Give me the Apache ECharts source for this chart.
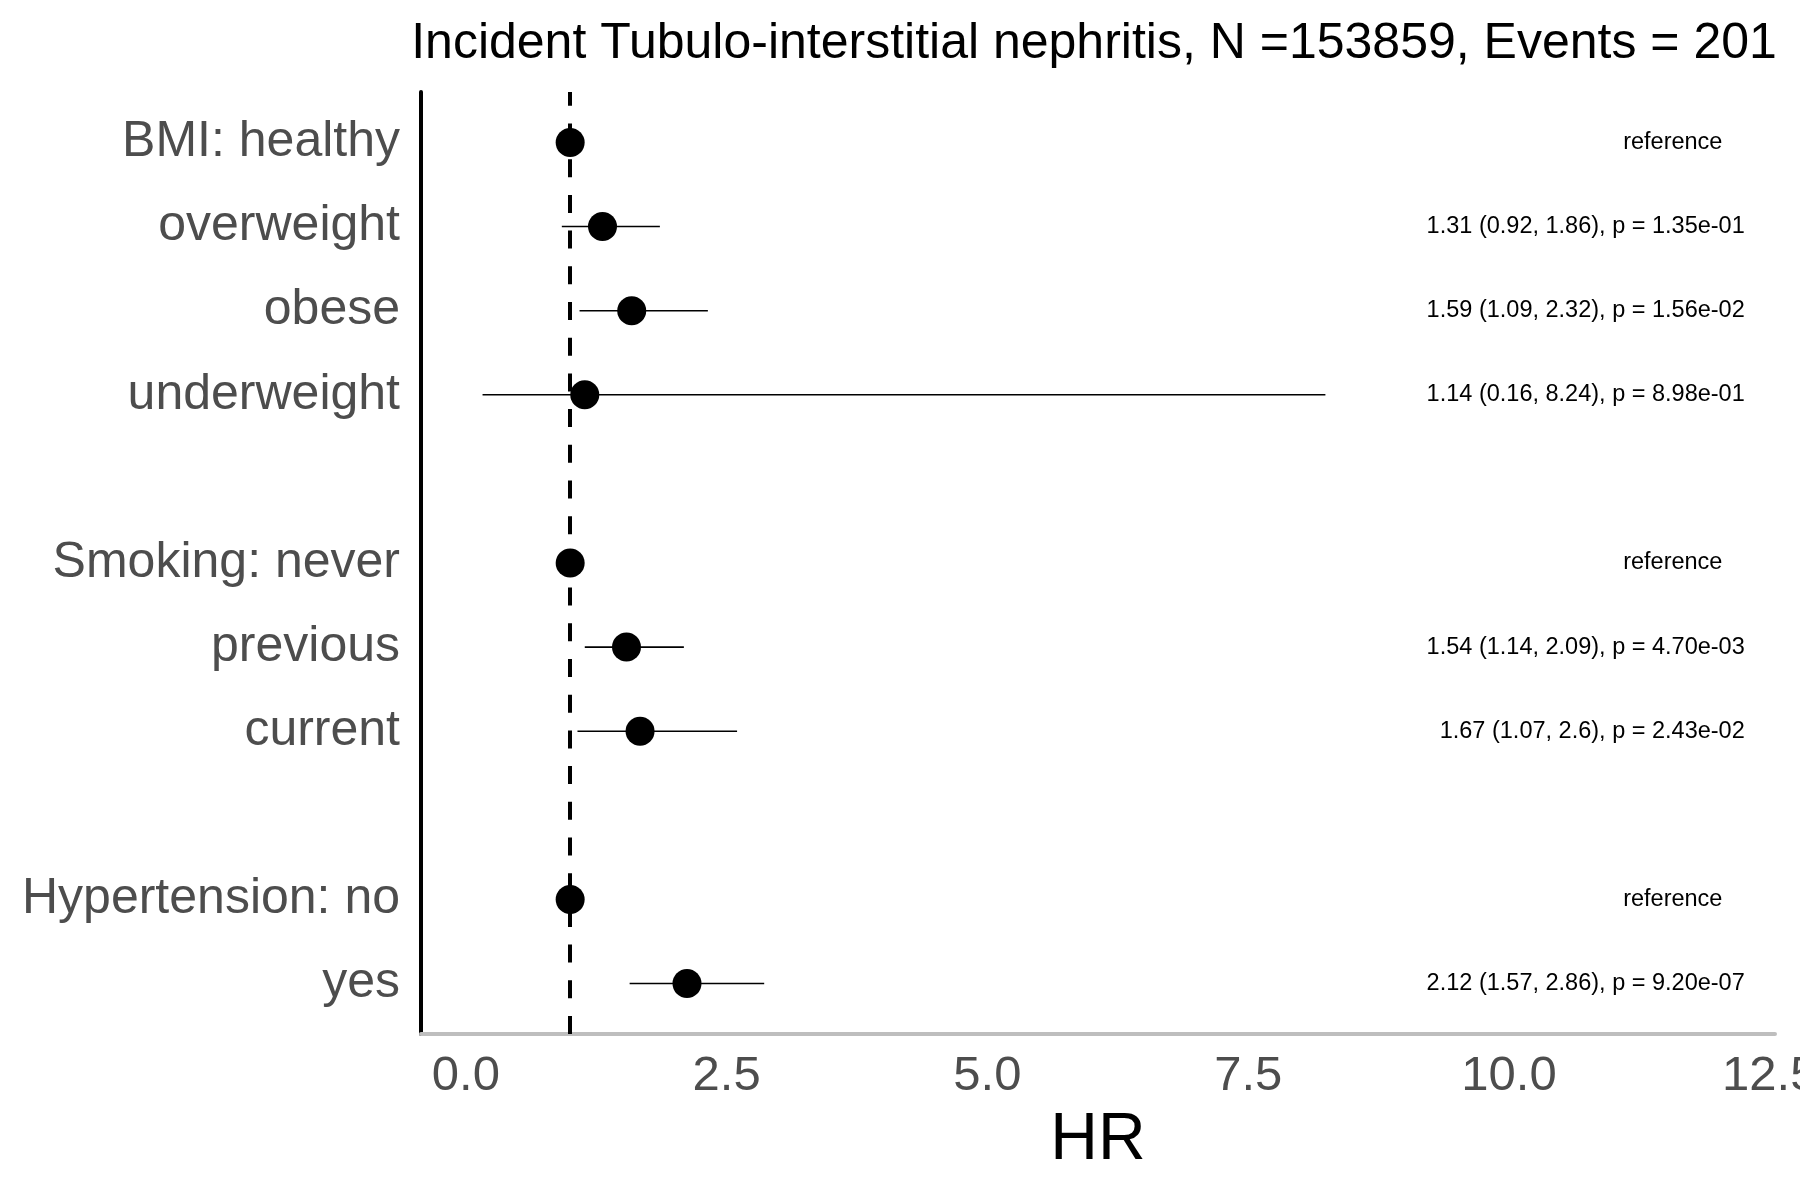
<!DOCTYPE html>
<html>
<head>
<meta charset="utf-8">
<script src="https://cdn.jsdelivr.net/npm/echarts@6/dist/echarts.min.js"></script>
<style>
  html, body { margin: 0; padding: 0; background: #fff; }
  #main { width: 1800px; height: 1200px; }
</style>
</head>
<body>
<div id="main"></div>
<script>
// rows from top to bottom, '' = spacer row between groups
var rowLabels = ['BMI: healthy', 'overweight', 'obese', 'underweight', '',
  'Smoking: never', 'previous', 'current', '',
  'Hypertension: no', 'yes'];
var hrValues = [1, 1.31, 1.59, 1.14, null, 1, 1.54, 1.67, null, 1, 2.12];
var lowerCI = [null, 0.92, 1.09, 0.16, null, null, 1.14, 1.07, null, null, 1.57];
var upperCI = [null, 1.86, 2.32, 8.24, null, null, 2.09, 2.6, null, null, 2.86];
var pValues = [null, '1.35e-01', '1.56e-02', '8.98e-01', null, null, '4.70e-03', '2.43e-02', null, null, '9.20e-07'];
var xTicks = [0, 2.5, 5, 7.5, 10, 12.5];

var titleText = 'Incident Tubulo-interstitial nephritis, N =153859, Events = 201';
var font = "'Liberation Sans', Arial, Helvetica, sans-serif";

var n = rowLabels.length;
function rowPos(i) { return n - 1 - i; }

var pointData = [], barData = [], textData = [], labelPos = [];
for (var i = 0; i < n; i++) {
  if (hrValues[i] == null) continue;
  var y = rowPos(i);
  labelPos.push(y);
  pointData.push([hrValues[i], y]);
  if (lowerCI[i] != null) {
    barData.push([lowerCI[i], upperCI[i], y]);
    textData.push([y, hrValues[i] + ' (' + lowerCI[i] + ', ' + upperCI[i] + '), p = ' + pValues[i], 0]);
  } else {
    textData.push([y, 'reference', 1]);
  }
}

var chart = echarts.init(document.getElementById('main'));

var option = {
  backgroundColor: '#ffffff',
  animation: false,
  title: {
    text: titleText,
    left: 1089,
    top: 14,
    textAlign: 'center',
    textStyle: { fontFamily: font, fontSize: 50, fontWeight: 'normal', color: '#000' }
  },
  grid: {
    left: 421, right: 25, top: 92, bottom: 166,
    containLabel: false,
    outerBoundsMode: 'none'
  },
  xAxis: {
    type: 'value',
    min: -0.43,
    max: 12.55,
    name: 'HR',
    nameLocation: 'middle',
    nameGap: 74,
    nameTextStyle: { fontFamily: font, fontSize: 66, color: '#000' },
    axisLine: { show: true, onZero: false, lineStyle: { color: '#bebebe', width: 4 } },
    axisTick: { show: false },
    splitLine: { show: false },
    axisLabel: {
      customValues: xTicks,
      formatter: function (v) { return v.toFixed(1); },
      fontFamily: font, fontSize: 49, color: '#4d4d4d', margin: 18
    }
  },
  yAxis: {
    type: 'value',
    min: -0.6,
    max: n - 1 + 0.6,
    axisLine: { show: true, onZero: false, lineStyle: { color: '#000', width: 4 } },
    axisTick: { show: false },
    splitLine: { show: false },
    axisLabel: {
      customValues: labelPos,
      formatter: function (v) { return rowLabels[n - 1 - Math.round(v)]; },
      fontFamily: font, fontSize: 50, color: '#4d4d4d', margin: 21
    }
  },
  series: [
    {
      // confidence intervals
      type: 'custom',
      data: barData,
      z: 3,
      renderItem: function (params, api) {
        var a = api.coord([api.value(0), api.value(2)]);
        var b = api.coord([api.value(1), api.value(2)]);
        return {
          type: 'line',
          shape: { x1: a[0], y1: a[1], x2: b[0], y2: b[1] },
          style: { stroke: '#000', lineWidth: 1.6 }
        };
      },
      encode: { x: [0, 1], y: 2 },
      silent: true
    },
    {
      type: 'scatter',
      data: pointData,
      symbol: 'circle',
      symbolSize: 29,
      itemStyle: { color: '#000', opacity: 1 },
      z: 4,
      silent: true,
      markLine: {
        silent: true,
        symbol: 'none',
        label: { show: false },
        lineStyle: { color: '#000', width: 4, type: [18, 17.7] },
        data: [{ xAxis: 1 }]
      }
    },
    {
      // HR (CI), p text on the right
      type: 'custom',
      data: textData,
      z: 5,
      renderItem: function (params, api) {
        var isRef = api.value(2) === 1;
        var p = api.coord([isRef ? 11.57 : 12.26, api.value(0)]);
        return {
          type: 'text',
          x: p[0],
          y: p[1],
          style: {
            text: textData[params.dataIndex][1],
            font: '23.5px ' + font,
            fill: '#000',
            align: isRef ? 'center' : 'right',
            verticalAlign: 'middle'
          }
        };
      },
      encode: { y: 0 },
      silent: true
    }
  ]
};

chart.setOption(option);
</script>
</body>
</html>
